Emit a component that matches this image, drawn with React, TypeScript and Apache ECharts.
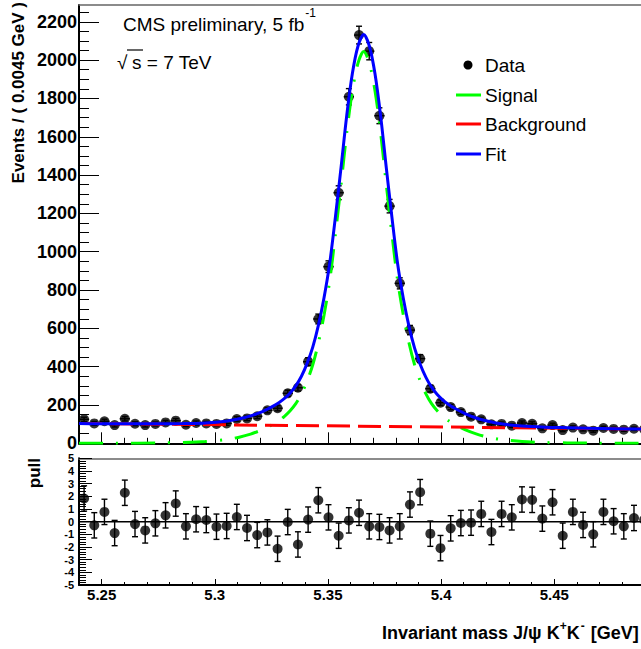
import React, { useEffect, useRef } from "react";
import * as echarts from "echarts";

// ---------- data ----------
const MASS_MIN = 5.24;
const MASS_MAX = 5.51;
const BIN_WIDTH = 0.0045;

const eventCounts = [
  125, 104, 115, 95, 128, 102, 95, 101, 109, 118,
  97, 106, 104, 101, 104, 127, 130, 141, 172, 183,
  261, 290, 426, 649, 922, 1308, 1809, 2131, 2047, 1710,
  1238, 835, 591, 442, 285, 212, 189, 163, 139, 125,
  99, 101, 92, 106, 102, 78, 95, 69, 82, 73,
  66, 80, 75, 71, 76, 73, 70, 74, 71, 72,
];

const pullValues = [
  1.83, -0.29, 0.77, -0.9, 2.28, -0.19, -0.69, -0.13, 0.5, 1.43,
  -0.37, 0.19, 0.13, -0.4, -0.34, 0.37, -0.5, -1.06, -0.85, -2.14,
  -0.03, -1.8, 0.16, 1.69, 0.34, -1.11, 0.1, 0.7, -0.37, -0.42,
  -0.69, -0.37, 1.35, 2.33, -0.95, -2.09, -0.53, -0.11, -0.08, 0.61,
  -0.82, 0.61, 0.34, 1.75, 1.72, 0.24, 1.53, -1.11, 0.77, -0.26,
  -1.0, 0.77, 0.03, -0.37, 0.29, 0.15, -0.4, 0.3, -0.2, 0.05,
];
const PULL_ERROR = 1;

const curveMass = [
  5.24, 5.2558, 5.2758, 5.2858, 5.2958, 5.3058, 5.3108, 5.3158, 5.3208, 5.3258,
  5.3283, 5.3308, 5.3333, 5.3358, 5.3383, 5.3408, 5.3433, 5.3458, 5.3483, 5.3508,
  5.3533, 5.3558, 5.3583, 5.3608, 5.3633, 5.3658, 5.3683, 5.3708, 5.3733, 5.3758,
  5.3783, 5.3808, 5.3833, 5.3858, 5.3883, 5.3908, 5.3933, 5.3958, 5.3983, 5.4008,
  5.4033, 5.4058, 5.4108, 5.4158, 5.4208, 5.4258, 5.4358, 5.4458, 5.4558, 5.4658,
  5.4858, 5.51,
];
const fitValues = [
  104, 102, 102, 103, 106, 117, 128, 143, 164, 194,
  212, 234, 263, 300, 350, 417, 502, 617, 761, 941,
  1181, 1440, 1710, 1930, 2074, 2134, 2074, 1929, 1708, 1438,
  1178, 937, 757, 612, 497, 411, 344, 293, 255, 226,
  203, 184, 154, 131, 115, 103, 90, 84, 81, 78,
  75, 72,
];
const signalValues = [
  0, 0, 2, 4, 9, 21, 32, 48, 70, 100,
  118, 141, 170, 207, 258, 325, 410, 525, 670, 850,
  1090, 1350, 1620, 1840, 1985, 2045, 1985, 1840, 1620, 1350,
  1090, 850, 670, 525, 410, 325, 258, 207, 170, 141,
  118, 100, 70, 48, 32, 21, 9, 4, 2, 1,
  0, 0,
];
const backgroundMass = [5.24, 5.51];
const backgroundValues = [104, 72];

const xMajorTicks = [5.25, 5.3, 5.35, 5.4, 5.45, 5.5];
const xTickLabels = [5.25, 5.3, 5.35, 5.4, 5.45];
const yMajorTicks = [0, 200, 400, 600, 800, 1000, 1200, 1400, 1600, 1800, 2000, 2200];
const pullMajorTicks = [-5, -4, -3, -2, -1, 0, 1, 2, 3, 4, 5];

const legendLabels = ["Data", "Signal", "Background", "Fit"];

// ---------- helpers ----------
const range = (a: number, b: number, step: number) => {
  const out: number[] = [];
  for (let v = a; v <= b + 1e-9; v += step) out.push(+v.toFixed(4));
  return out;
};
const xMinorTicks = range(MASS_MIN, MASS_MAX, 0.01);
const yMinorTicks = range(0, 2250, 50);
const pullMinorTicks = range(-5, 5, 0.2);

const FONT = '"Liberation Sans", Arial, Helvetica, sans-serif';
const measure = (text: string, size: number, weight: string) => {
  const ctx = document.createElement("canvas").getContext("2d")!;
  ctx.font = `${weight} ${size}px "Liberation Sans", Arial, sans-serif`;
  return ctx.measureText(text).width;
};

export default function App() {
  const ref = useRef<HTMLDivElement>(null);

  useEffect(() => {
    const el = ref.current!;
    const chart = echarts.init(el, undefined, { renderer: "svg", width: 700, height: 649 });

    const centers = eventCounts.map((_, i) => +(MASS_MIN + (i + 0.5) * BIN_WIDTH).toFixed(5));
    const dataPts = eventCounts.map((c, i) => [centers[i], c, Math.sqrt(c)]);
    const pullPts = pullValues.map((p, i) => [centers[i], p, PULL_ERROR]);
    const fitPts = curveMass.map((m, i) => [m, fitValues[i]]);
    const sigPts = curveMass.map((m, i) => [m, signalValues[i]]);
    const bgPts = backgroundMass.map((m, i) => [m, backgroundValues[i]]);

    const errRender = (withX: boolean) => (params: any, api: any) => {
      const x = api.value(0);
      const y = api.value(1);
      const e = api.value(2);
      const top = api.coord([x, y + e]);
      const bot = api.coord([x, y - e]);
      const st = { stroke: "#000", lineWidth: 1.4 };
      const cap = 3;
      const children: any[] = [
        { type: "line", shape: { x1: top[0], y1: top[1], x2: bot[0], y2: bot[1] }, style: st },
        { type: "line", shape: { x1: top[0] - cap, y1: top[1], x2: top[0] + cap, y2: top[1] }, style: st },
        { type: "line", shape: { x1: bot[0] - cap, y1: bot[1], x2: bot[0] + cap, y2: bot[1] }, style: st },
      ];
      if (withX) {
        const l = api.coord([x - BIN_WIDTH / 2, y]);
        const r = api.coord([x + BIN_WIDTH / 2, y]);
        children.push({ type: "line", shape: { x1: l[0], y1: l[1], x2: r[0], y2: r[1] }, style: st });
      }
      return { type: "group", children };
    };

    const labelFont = { fontFamily: FONT, fontWeight: "bold" as const, color: "#000" };

    const xBase = (grid: number) => ({
      type: "value" as const,
      gridIndex: grid,
      min: MASS_MIN,
      max: MASS_MAX,
      position: "bottom" as const,
      splitLine: { show: false },
    });
    const yBase = (grid: number, min: number, max: number) => ({
      type: "value" as const,
      gridIndex: grid,
      min,
      max,
      position: "left" as const,
      splitLine: { show: false },
    });

    const titleSize = 19;
    const cmsText = "CMS preliminary, 5 fb";
    const cmsX = 123;
    const cmsW = measure(cmsText, titleSize, "normal");

    const xtSize = 18;
    const xtX = 382;
    const xtY = 633;
    const p1 = "Invariant mass J/\u03c8 K";
    const w1 = measure(p1, xtSize, "bold");
    const supSize = 12;
    const wPlus = measure("+", supSize, "bold");
    const wK = measure("K", xtSize, "bold");
    const wMinus = measure("-", supSize, "bold");

    const txt = (text: string, x: number, y: number, size: number, weight: string, align = "left", extra: any = {}) => ({
      type: "text",
      x,
      y,
      silent: true,
      ...extra,
      style: {
        text,
        fill: "#000",
        fontSize: size,
        fontWeight: weight,
        fontFamily: FONT,
        align,
        textAlign: align,
        verticalAlign: "middle",
        textVerticalAlign: "middle",
      },
    });

    const legendX = 485;
    const legendYs = [65, 95, 124, 154];
    const legendColors = ["#000", "#00ff00", "#ff0000", "#0000ff"];

    const option: any = {
      animation: false,
      backgroundColor: "#fff",
      grid: [
        { left: 79, top: 5, width: 611, height: 438.3, outerBoundsMode: "none" },
        { left: 79, top: 458.3, width: 611, height: 126.7, outerBoundsMode: "none" },
      ],
      xAxis: [
        {
          ...xBase(0),
          axisLine: { show: true, onZero: false, lineStyle: { color: "#000", width: 2 } },
          axisTick: { show: true, inside: true, length: 11, customValues: xMajorTicks, lineStyle: { color: "#000", width: 1 } },
          axisLabel: { show: false },
        },
        {
          ...xBase(0),
          axisLine: { show: false, onZero: false },
          axisTick: { show: true, inside: true, length: 5.5, customValues: xMinorTicks, lineStyle: { color: "#000", width: 1 } },
          axisLabel: { show: false },
        },
        {
          ...xBase(0),
          position: "top",
          axisLine: { show: true, onZero: false, lineStyle: { color: "#666", width: 1.5 } },
          axisTick: { show: false },
          axisLabel: { show: false },
        },
        {
          ...xBase(1),
          axisLine: { show: true, onZero: false, lineStyle: { color: "#000", width: 2 } },
          axisTick: { show: true, inside: true, length: 6, customValues: xMajorTicks, lineStyle: { color: "#000", width: 1 } },
          axisLabel: {
            show: true,
            customValues: xTickLabels,
            margin: 2,
            fontSize: 15,
            ...labelFont,
            formatter: (v: number) => String(+v.toFixed(2)),
          },
        },
        {
          ...xBase(1),
          axisLine: { show: false, onZero: false },
          axisTick: { show: true, inside: true, length: 3, customValues: xMinorTicks, lineStyle: { color: "#000", width: 1 } },
          axisLabel: { show: false },
        },
        {
          ...xBase(1),
          position: "top",
          axisLine: { show: true, onZero: false, lineStyle: { color: "#666", width: 1.5 } },
          axisTick: { show: false },
          axisLabel: { show: false },
        },
      ],
      yAxis: [
        {
          ...yBase(0, 0, 2288),
          axisLine: { show: true, onZero: false, lineStyle: { color: "#000", width: 2 } },
          axisTick: { show: true, inside: true, length: 20, customValues: yMajorTicks, lineStyle: { color: "#000", width: 1 } },
          axisLabel: {
            show: true,
            customValues: yMajorTicks,
            margin: 2,
            fontSize: 18,
            ...labelFont,
            formatter: (v: number) => String(v),
          },
        },
        {
          ...yBase(0, 0, 2288),
          axisLine: { show: false, onZero: false },
          axisTick: { show: true, inside: true, length: 10, customValues: yMinorTicks, lineStyle: { color: "#000", width: 1 } },
          axisLabel: { show: false },
        },
        {
          ...yBase(1, -5, 5),
          axisLine: { show: true, onZero: false, lineStyle: { color: "#000", width: 2 } },
          axisTick: { show: true, inside: true, length: 13, customValues: pullMajorTicks, lineStyle: { color: "#000", width: 1 } },
          axisLabel: {
            show: true,
            customValues: pullMajorTicks,
            margin: 5,
            fontSize: 11,
            ...labelFont,
            formatter: (v: number) => String(v),
          },
        },
        {
          ...yBase(1, -5, 5),
          axisLine: { show: false, onZero: false },
          axisTick: { show: true, inside: true, length: 7, customValues: pullMinorTicks, lineStyle: { color: "#000", width: 1 } },
          axisLabel: { show: false },
        },
      ],
      series: [
        {
          type: "custom",
          xAxisIndex: 0,
          yAxisIndex: 0,
          z: 2,
          renderItem: errRender(true),
          data: dataPts,
          encode: { x: 0, y: 1 },
        },
        {
          type: "scatter",
          xAxisIndex: 0,
          yAxisIndex: 0,
          z: 3,
          symbol: "circle",
          symbolSize: 10,
          itemStyle: { color: "#000" },
          data: dataPts.map((d) => [d[0], d[1]]),
        },
        {
          type: "line",
          xAxisIndex: 0,
          yAxisIndex: 0,
          z: 4,
          data: sigPts,
          showSymbol: false,
          symbol: "none",
          smooth: 0.3,
          lineStyle: { color: "#00ff00", width: 3, type: [24, 13, 2, 13] },
        },
        {
          type: "line",
          xAxisIndex: 0,
          yAxisIndex: 0,
          z: 5,
          data: bgPts,
          showSymbol: false,
          symbol: "none",
          lineStyle: { color: "#ff0000", width: 3, type: [23, 8] },
        },
        {
          type: "line",
          xAxisIndex: 0,
          yAxisIndex: 0,
          z: 6,
          data: fitPts,
          showSymbol: false,
          symbol: "none",
          smooth: 0.3,
          lineStyle: { color: "#0000ff", width: 3 },
        },
        {
          type: "line",
          xAxisIndex: 3,
          yAxisIndex: 2,
          z: 2,
          data: [
            [MASS_MIN, 0],
            [MASS_MAX, 0],
          ],
          showSymbol: false,
          symbol: "none",
          lineStyle: { color: "#000", width: 1.5 },
        },
        {
          type: "custom",
          xAxisIndex: 3,
          yAxisIndex: 2,
          z: 3,
          renderItem: errRender(false),
          data: pullPts,
          encode: { x: 0, y: 1 },
        },
        {
          type: "scatter",
          xAxisIndex: 3,
          yAxisIndex: 2,
          z: 4,
          symbol: "circle",
          symbolSize: 10,
          itemStyle: { color: "#000" },
          data: pullPts.map((d) => [d[0], d[1]]),
        },
      ],
      graphic: {
        elements: [
          txt(cmsText, cmsX, 24, titleSize, "normal"),
          txt("-1", cmsX + cmsW + 1, 13, 12, "normal"),
          txt("\u221a", 117, 62, titleSize, "normal"),
          txt("s = 7 TeV", 132, 62, titleSize, "normal"),
          {
            type: "line",
            silent: true,
            shape: { x1: 127, y1: 50, x2: 143, y2: 50 },
            style: { stroke: "#000", lineWidth: 1.2 },
          },
          {
            type: "circle",
            silent: true,
            shape: { cx: 468, cy: legendYs[0], r: 4.5 },
            style: { fill: "#000" },
          },
          ...[1, 2, 3].map((i) => ({
            type: "line",
            silent: true,
            shape: { x1: 456, y1: legendYs[i], x2: 481, y2: legendYs[i] },
            style: { stroke: legendColors[i], lineWidth: 3 },
          })),
          ...legendLabels.map((l, i) => txt(l, legendX, legendYs[i], titleSize, "normal")),
          txt("Events / ( 0.0045 GeV )", 18, 2, 17, "bold", "right", { rotation: Math.PI / 2 }),
          txt("pull", 34, 458, 17, "bold", "right", { rotation: Math.PI / 2 }),
          txt(p1, xtX, xtY, xtSize, "bold"),
          txt("+", xtX + w1, xtY - 7, supSize, "bold"),
          txt("K", xtX + w1 + wPlus, xtY, xtSize, "bold"),
          txt("-", xtX + w1 + wPlus + wK + 1, xtY - 7, supSize, "bold"),
          txt(" [GeV]", xtX + w1 + wPlus + wK + wMinus + 2, xtY, xtSize, "bold"),
        ],
      },
    };

    chart.setOption(option);
    return () => chart.dispose();
  }, []);

  return (
    <div
      style={{
        position: "fixed",
        left: 0,
        top: 0,
        width: 641,
        height: 649,
        overflow: "hidden",
        background: "#fff",
      }}
    >
      <div ref={ref} style={{ width: 700, height: 649 }} />
    </div>
  );
}
